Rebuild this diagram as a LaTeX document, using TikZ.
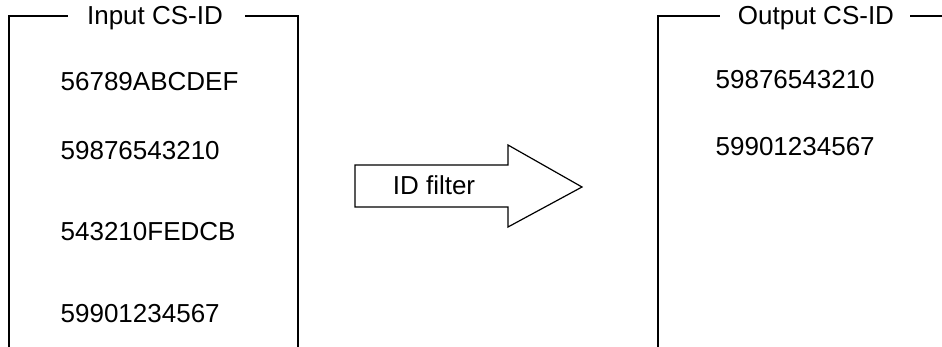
\documentclass[tikz,border=0pt]{standalone}
\usepackage{fontspec}
\setmainfont{Liberation Sans}
\begin{document}
\begin{tikzpicture}[x=1pt,y=-1pt,
  line width=1.3pt,
  idtext/.style={anchor=west,inner sep=0pt,font=\fontsize{26}{30}\selectfont},
  titletext/.style={inner sep=0pt,font=\fontsize{26}{30}\selectfont}]
\useasboundingbox (0,0) rectangle (942,347);
% Input frame
\node[titletext] (inT) at (155,18) {Input CS-ID};
\coordinate (inTL) at (9,16);
\coordinate (inBL) at (9,347);
\coordinate (inTR) at (298,16);
\coordinate (inBR) at (298,347);
\draw (inBL) -- (inTL) -- (68,16);
\draw (245,16) -- (inTR) -- (inBR);
\node[idtext] (i1) at (60,82) {56789ABCDEF};
\node[idtext] (i2) at (60,151) {59876543210};
\node[idtext] (i3) at (60,232) {543210FEDCB};
\node[idtext] (i4) at (60,314) {59901234567};
% Arrow
\draw[line width=1.2pt] (355,165) -- (508,165) -- (508,145) -- (582,187) -- (508,227) -- (508,207) -- (355,207) -- cycle;
\node[titletext] (flt) at (434,185) {ID filter};
% Output frame
\node[titletext] (outT) at (816,18) {Output CS-ID};
\coordinate (outTL) at (658,16);
\coordinate (outBL) at (658,347);
\draw (outBL) -- (outTL) -- (720,16);
\draw (910,16) -- (942,16);
\node[idtext] (o1) at (715,80) {59876543210};
\node[idtext] (o2) at (715,147) {59901234567};
\end{tikzpicture}
\end{document}
